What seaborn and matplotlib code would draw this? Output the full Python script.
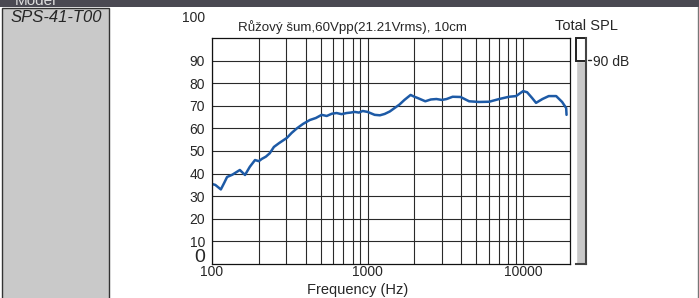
import numpy as np
import pandas as pd
import matplotlib
matplotlib.use("Agg")
import matplotlib.pyplot as plt
from matplotlib.patches import Rectangle
from matplotlib.ticker import FixedLocator, NullFormatter
import seaborn as sns

# Frequency response
freq_hz = [100, 105, 114, 120, 125, 135, 151, 163, 175, 189, 200, 209, 222, 235,
           250, 270, 303, 325, 351, 385, 425, 465, 507, 546, 590, 632, 680, 733,
           780, 825, 880, 930, 1000, 1110, 1200, 1288, 1390, 1490, 1600, 1725,
           1890, 2000, 2090, 2350, 2550, 2770, 3000, 3220, 3520, 3960, 4490,
           5200, 6050, 7010, 8110, 9000, 10000, 10600, 11400, 12100, 13300,
           14600, 16300, 17800, 18900, 19000]
spl_db = [35.4, 35.0, 33.0, 36.0, 38.5, 39.5, 41.6, 39.4, 43.0, 46.0, 45.5, 46.5,
          47.5, 49.0, 51.8, 53.5, 55.8, 58.0, 60.0, 62.0, 63.7, 64.6, 66.0, 65.5,
          66.5, 66.8, 66.3, 66.8, 67.0, 67.3, 67.0, 67.7, 67.3, 66.0, 65.8, 66.4,
          67.5, 69.0, 70.5, 72.6, 74.8, 74.0, 73.5, 72.0, 72.8, 73.0, 72.6, 73.0,
          74.0, 73.9, 72.0, 71.7, 71.8, 73.0, 74.0, 74.3, 76.5, 76.0, 73.5, 71.3,
          73.0, 74.3, 74.3, 71.7, 69.0, 66.0]

y_ticks = [10, 20, 30, 40, 50, 60, 70, 80, 90]
x_labels = [100, 1000, 10000]
total_spl = 90

model_name = "SPS-41-T00"
title = "Růžový šum,60Vpp(21.21Vrms), 10cm"

sns.set_style("white")
plt.rcParams["font.family"] = ["Liberation Sans", "DejaVu Sans"]

W, H = 699, 298
fig = plt.figure(figsize=(W / 100, H / 100), dpi=100)

def fx(px):
    return px / W

def fy(py):
    return 1 - py / H

# header bar + left panel
fig.patches.append(Rectangle((0, fy(7)), 1, 7 / H, transform=fig.transFigure,
                             facecolor="#4a4952", edgecolor="none"))
fig.text(fx(15), fy(1), "Model", color="#dddddd", fontsize=11, ha="left", va="center")
fig.patches.append(Rectangle((fx(2), fy(310)), fx(107), 302 / H,
                             transform=fig.transFigure, facecolor="#c9c9c9",
                             edgecolor="#333333", linewidth=1.0))
fig.text(fx(11), fy(17), model_name, fontsize=12, style="italic", ha="left", va="center")
fig.lines.append(plt.Line2D([fx(697.5), fx(697.5)], [0, fy(7)], transform=fig.transFigure,
                            color="#777777", lw=1))

# main plot
ax = fig.add_axes([fx(212), fy(264), fx(570) - fx(212), (264 - 38) / H])
df = pd.DataFrame({"freq": freq_hz, "spl": spl_db})
sns.lineplot(data=df, x="freq", y="spl", ax=ax, color="#1d5aa6", lw=1.8)
ax.set_xscale("log")
ax.set_xlim(100, 20000)
ax.set_ylim(0, 100)

minor = [m * d for d in (100, 1000) for m in range(2, 10)]
ax.set_xticks(x_labels)
ax.set_xticklabels([str(v) for v in x_labels], fontsize=10)
ax.xaxis.set_minor_locator(FixedLocator(minor))
ax.xaxis.set_minor_formatter(NullFormatter())
ax.set_yticks(y_ticks)
ax.set_yticklabels([str(v) for v in y_ticks], fontsize=10)
ax.tick_params(axis="x", which="both", length=0, pad=1)
ax.tick_params(axis="y", which="both", length=0, pad=5)
ax.grid(True, which="both", color="#2a2a2a", lw=0.8)
ax.set_axisbelow(True)
for s in ax.spines.values():
    s.set_color("#111111")
    s.set_linewidth(0.9)
ax.set_xlabel("")
ax.set_ylabel("")

fig.text(fx(352), fy(27), title, fontsize=9.6, ha="center", va="center")
fig.text(fx(358), fy(290), "Frequency (Hz)", fontsize=10.5, ha="center", va="center")
fig.text(fx(205), fy(18), "100", fontsize=10, ha="right", va="center")
fig.text(fx(205), fy(257), "0", fontsize=14, ha="right", va="center")

# total SPL meter
bx = fig.add_axes([fx(576), fy(264), fx(586) - fx(576), (264 - 38) / H])
sns.barplot(x=["SPL"], y=[total_spl], ax=bx, color="#c8c8c8", width=1.0,
            saturation=1)
bx.bar([0], [100 - total_spl], bottom=[total_spl], width=1.0, color="white",
       edgecolor="#222222", linewidth=1.4, clip_on=False)
bx.set_xlim(-0.5, 0.5)
bx.set_ylim(0, 100)
bx.set_xticks([])
bx.set_yticks([])
bx.set_xlabel("")
bx.set_ylabel("")
for side in ("top", "left"):
    bx.spines[side].set_visible(False)
for side in ("right", "bottom"):
    bx.spines[side].set_color("#444444")
    bx.spines[side].set_linewidth(1.5)
fig.text(fx(586), fy(26), "Total SPL", fontsize=10.5, ha="center", va="center")
fig.lines.append(plt.Line2D([fx(588), fx(591)], [fy(60), fy(60)], transform=fig.transFigure,
                            color="#222222", lw=1))
fig.text(fx(593), fy(62), "90 dB", fontsize=10, ha="left", va="center")

fig.savefig("out.png", dpi=100)
